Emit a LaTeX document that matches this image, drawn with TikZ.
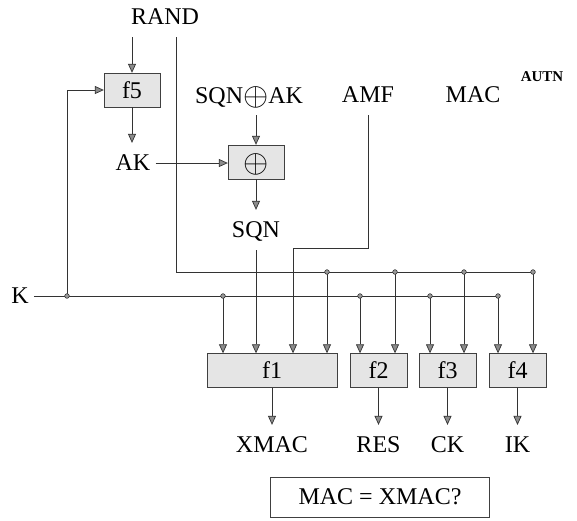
\documentclass[tikz,border=0pt]{standalone}
\usepackage{fontspec}
\setmainfont{Liberation Serif}
\usetikzlibrary{arrows.meta}

\newcommand{\bigxor}{\raisebox{-0.1em}{\scalebox{1.3}{$\oplus$}}}

\begin{document}
\begin{tikzpicture}[
    x=1pt, y=-1pt,
    font=\fontsize{24}{28}\selectfont,
    txt/.style={inner xsep=5pt, inner ysep=12pt, text depth=0pt},
    fbox/.style={draw=black!75, fill=black!10, minimum height=34pt, inner sep=0pt, text depth=0pt},
    wire/.style={draw=black!80, line width=0.7pt},
    arrow/.style={wire, -{Triangle[length=9pt, width=8pt, fill=black!45]}},
    tap/.style={draw=black!80, fill=black!40, line width=0.6pt}
]
    \useasboundingbox (0,0) rectangle (577,520);

    % Inputs
    \node[txt] (rand) at (165,17) {RAND};
    \node[txt] (sqnak) at (249,95) {SQN\bigxor AK};
    \node[txt] (amf) at (368,95) {AMF};
    \node[txt] (mac) at (473,95) {MAC};
    \node[font=\fontsize{15}{17}\selectfont\bfseries] (autn) at (542,77) {AUTN};
    \node[txt] (k) at (20,296) {K};

    % Anonymity key
    \node[fbox, minimum width=56pt] (f5) at (132,90) {f5};
    \node[txt] (ak) at (133,163) {AK};
    \node[fbox, minimum width=56pt] (xor) at (256,162) {\bigxor};
    \node[txt] (sqn) at (256,230) {SQN};

    % Functions
    \node[fbox, minimum width=130pt] (f1) at (272,370.5) {f1};
    \node[fbox, minimum width=57pt] (f2) at (378.5,370.5) {f2};
    \node[fbox, minimum width=57pt] (f3) at (447.5,370.5) {f3};
    \node[fbox, minimum width=57pt] (f4) at (517.5,370.5) {f4};

    % Outputs
    \node[txt] (xmac) at (272,445) {XMAC};
    \node[txt] (res) at (378.5,445) {RES};
    \node[txt] (ck) at (447.5,445) {CK};
    \node[txt] (ik) at (517.5,445) {IK};
    \node[draw=black!75, minimum width=219pt, minimum height=40pt] (check) at (380,497) {MAC = XMAC?};

    % Buses
    \coordinate (rbus) at (176,272);
    \coordinate (amfc) at (293,248);
    \foreach \n/\x in {r1/327, r2/395, r3/464, r4/533}
        \coordinate (\n) at (\x,272);
    \foreach \n/\x in {k0/67, k1/223, k2/360, k3/430, k4/498}
        \coordinate (\n) at (\x,296);

    % Arrows
    \draw[arrow] (rand.south -| f5) -- (f5);
    \draw[wire] (rand.south -| rbus) -- (rbus) -- (r4);
    \draw[wire] (k) -- (k4);
    \draw[arrow] (k0) |- (f5);
    \draw[arrow] (f5.south) -- (f5.south |- ak.north);
    \draw[arrow] (ak) -- (ak -| xor.west);
    \draw[arrow] (sqnak.south -| xor) -- (xor);
    \draw[arrow] (xor) -- (sqn);
    \draw[arrow] (sqn) -- (sqn |- f1.north);
    \draw[arrow] (amf) |- (amfc) -- (amfc |- f1.north);
    \foreach \t/\b in {k1/f1, r1/f1, k2/f2, r2/f2, k3/f3, r3/f3, k4/f4, r4/f4}
        \draw[arrow] (\t) -- (\t |- \b.north);
    \foreach \b/\o in {f1/xmac, f2/res, f3/ck, f4/ik}
        \draw[arrow] (\b) -- (\o);

    % Junctions
    \foreach \t in {k0, k1, k2, k3, k4, r1, r2, r3, r4}
        \filldraw[tap] (\t) circle (2.3pt);
\end{tikzpicture}
\end{document}
